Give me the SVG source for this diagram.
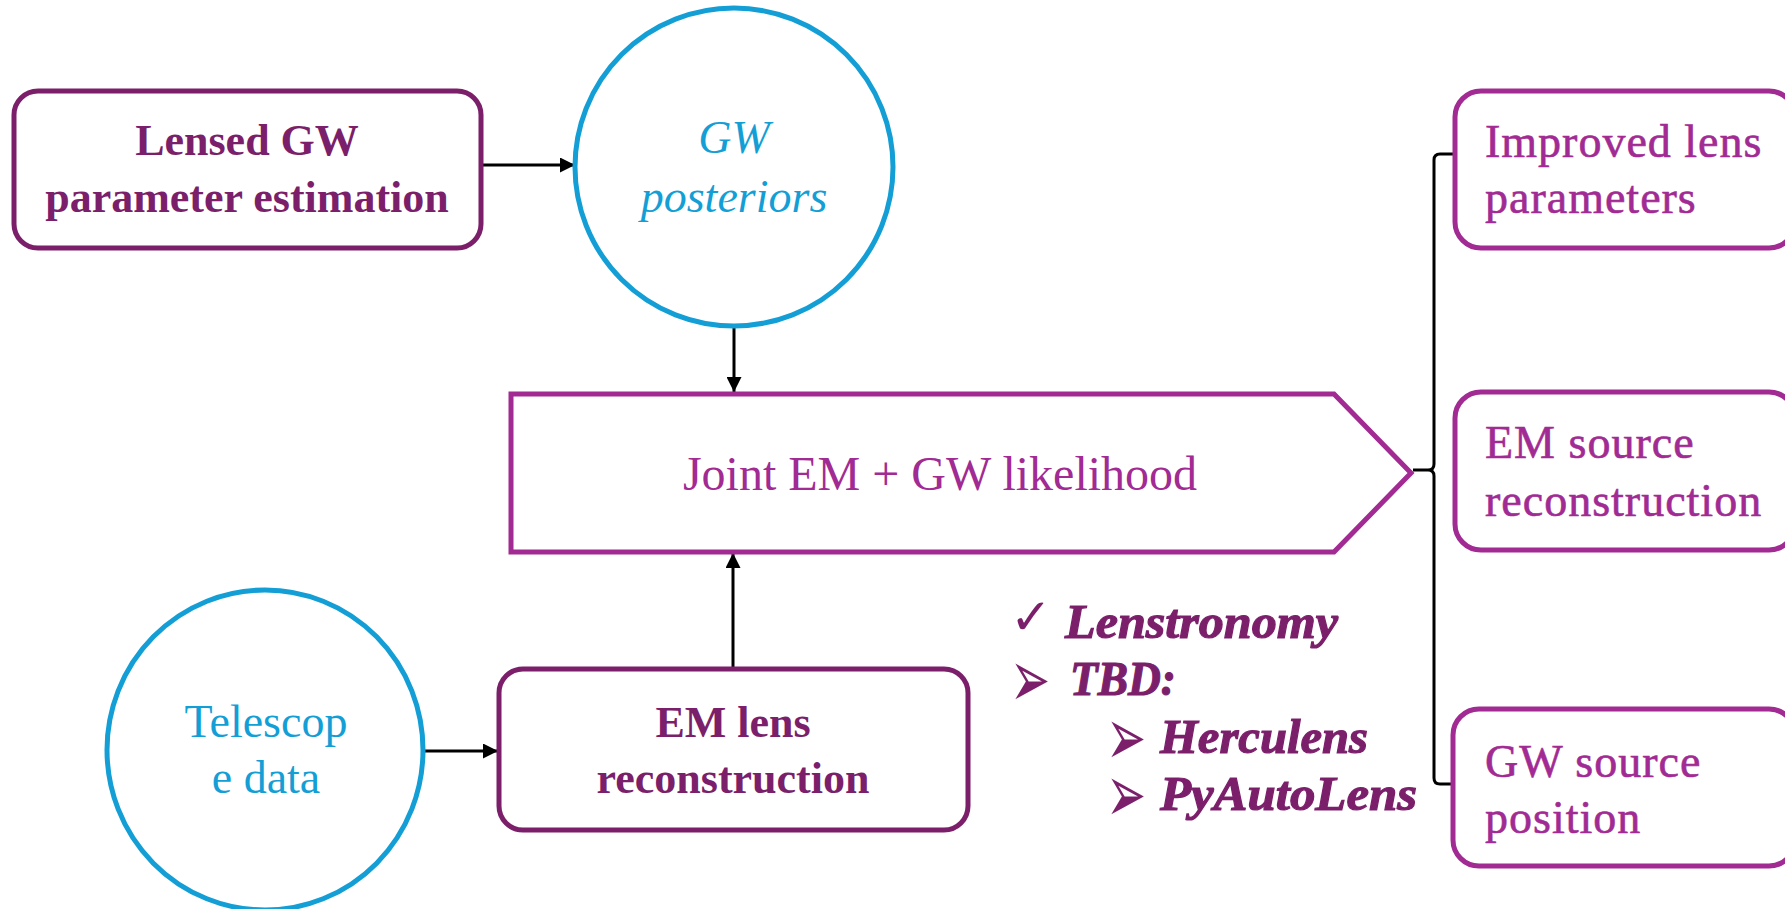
<svg xmlns="http://www.w3.org/2000/svg" width="1785" height="909" viewBox="0 0 1785 909">
  <defs>
    <style>
      .dark { fill: none; stroke: #7B1F6B; stroke-width: 5; }
      .mag { fill: none; stroke: #A12A93; stroke-width: 5; }
      .blue { fill: none; stroke: #139FD6; stroke-width: 5; }
      .wire { fill: none; stroke: #000; stroke-width: 3; }
      .t-dark { font-family: "Liberation Serif", serif; font-weight: bold; fill: #7B1F6B; font-size: 44px; text-anchor: middle; }
      .t-blue { font-family: "Liberation Serif", serif; fill: #139FD6; font-size: 46px; text-anchor: middle; }
      .t-mag { font-family: "Liberation Serif", serif; fill: #A12A93; font-size: 46px; letter-spacing: 1px; stroke: #A12A93; stroke-width: 0.6; }
      .t-list { font-family: "Liberation Serif", serif; font-weight: bold; font-style: italic; fill: #7B1F6B; font-size: 48px; stroke: #7B1F6B; stroke-width: 1.2; }
      .t-check { font-family: "DejaVu Sans", sans-serif; font-weight: bold; fill: #7B1F6B; font-size: 50px; }
      .t-arrow { font-family: "DejaVu Sans", sans-serif; fill: #7B1F6B; font-size: 48px; }
    </style>
    <marker id="arrow" viewBox="0 0 16 16" refX="16" refY="8" markerWidth="16" markerHeight="15" markerUnits="userSpaceOnUse" orient="auto">
      <path d="M0,0 L16,8 L0,16 Z" fill="#000"/>
    </marker>
  </defs>

  <rect width="1785" height="909" fill="#fff"/>

  <!-- connectors -->
  <g id="connectors">
    <line class="wire" x1="481" y1="165" x2="575" y2="165" marker-end="url(#arrow)"/>
    <line class="wire" x1="734" y1="326" x2="734" y2="392" marker-end="url(#arrow)"/>
    <line class="wire" x1="733" y1="669" x2="733" y2="553" marker-end="url(#arrow)"/>
    <line class="wire" x1="423" y1="751" x2="498" y2="751" marker-end="url(#arrow)"/>
    <!-- bracket fanning out to the results -->
    <path class="wire" d="M1455,154 H1440 Q1434,154 1434,160 V464 Q1434,470 1428,470 H1413 M1428,470 Q1434,470 1434,476 V778 Q1434,784 1440,784 H1453"/>
  </g>

  <!-- inputs -->
  <g id="lensed-gw-pe">
    <rect class="dark" x="14" y="91" width="467" height="157" rx="24"/>
    <text class="t-dark" x="247" y="155">Lensed GW</text>
    <text class="t-dark" x="247" y="212">parameter estimation</text>
  </g>

  <g id="gw-posteriors">
    <circle class="blue" cx="734" cy="167" r="159"/>
    <text class="t-blue" x="734" y="153" font-style="italic" font-size="45">GW</text>
    <text class="t-blue" x="734" y="212" font-style="italic" font-size="45">posteriors</text>
  </g>

  <g id="telescope-data">
    <ellipse class="blue" cx="265" cy="750" rx="158" ry="160"/>
    <text class="t-blue" x="266" y="737">Telescop</text>
    <text class="t-blue" x="266" y="793">e data</text>
  </g>

  <g id="em-lens-reconstruction">
    <rect class="dark" x="499" y="669" width="469" height="161" rx="24"/>
    <text class="t-dark" x="733" y="737">EM lens</text>
    <text class="t-dark" x="733" y="793">reconstruction</text>
  </g>

  <!-- joint likelihood -->
  <g id="joint-likelihood">
    <polygon class="mag" points="511,394 1334,394 1411,473 1334,552 511,552" stroke-linejoin="miter"/>
    <text x="940" y="490" font-family="Liberation Serif, serif" font-size="48" fill="#A12A93" text-anchor="middle">Joint EM + GW likelihood</text>
  </g>

  <!-- software list -->
  <g id="software-list">
    <text class="t-check" x="1010" y="634">✓</text>
    <text class="t-list" x="1065" y="638" textLength="273" lengthAdjust="spacingAndGlyphs">Lenstronomy</text>
    <g transform="translate(1010,680) scale(1,1.7)"><text class="t-arrow" x="0" y="16">➢</text></g>
    <text class="t-list" x="1070" y="695" textLength="106" lengthAdjust="spacingAndGlyphs">TBD:</text>
    <g transform="translate(1106,738) scale(1,1.7)"><text class="t-arrow" x="0" y="16">➢</text></g>
    <text class="t-list" x="1160" y="753" textLength="208" lengthAdjust="spacingAndGlyphs">Herculens</text>
    <g transform="translate(1106,795) scale(1,1.7)"><text class="t-arrow" x="0" y="16">➢</text></g>
    <text class="t-list" x="1160" y="810" textLength="257" lengthAdjust="spacingAndGlyphs">PyAutoLens</text>
  </g>

  <!-- outputs -->
  <g id="improved-lens-parameters">
    <rect class="mag" x="1455" y="91" width="340" height="157" rx="26"/>
    <text class="t-mag" x="1485" y="157">Improved lens</text>
    <text class="t-mag" x="1485" y="213">parameters</text>
  </g>

  <g id="em-source-reconstruction">
    <rect class="mag" x="1455" y="392" width="340" height="158" rx="26"/>
    <text class="t-mag" x="1485" y="458">EM source</text>
    <text class="t-mag" x="1485" y="516">reconstruction</text>
  </g>

  <g id="gw-source-position">
    <rect class="mag" x="1453" y="709" width="342" height="157" rx="26"/>
    <text class="t-mag" x="1485" y="777">GW source</text>
    <text class="t-mag" x="1485" y="833">position</text>
  </g>
</svg>
